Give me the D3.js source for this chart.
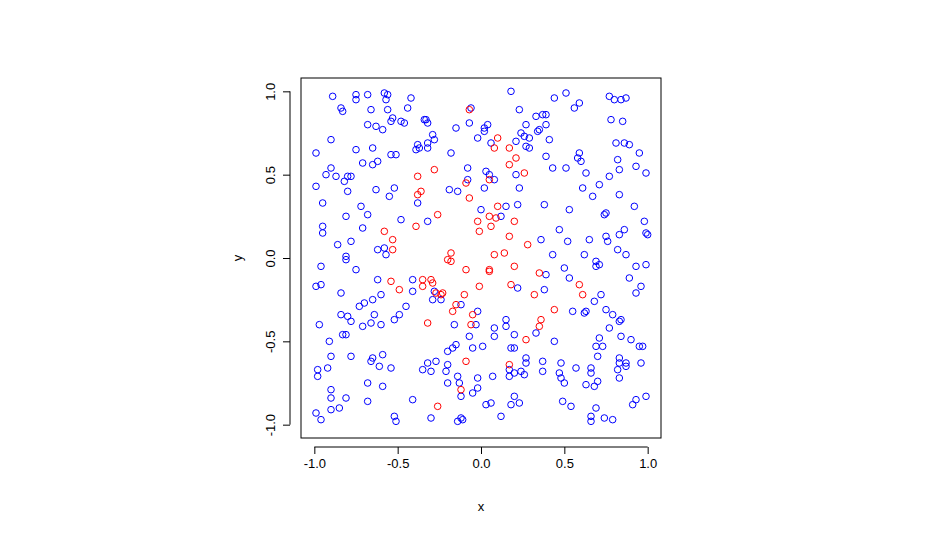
<!DOCTYPE html>
<html><head><meta charset="utf-8">
<script src="https://cdn.jsdelivr.net/npm/d3@7"></script>
<style>body{margin:0;background:#fff}svg{display:block}text{font-family:"Liberation Sans",Arial,sans-serif;font-size:13px;fill:#000}</style>
</head><body><svg id="c" width="926" height="535"></svg>
<script>
const xTicks=[-1,-0.5,0,0.5,1], yTicks=[-1,-0.5,0,0.5,1];
const xTickLabels=["-1.0","-0.5","0.0","0.5","1.0"], yTickLabels=["-1.0","-0.5","0.0","0.5","1.0"];
const blueX=[-0.89,-0.75,-0.75,-0.68,-0.58,-0.56,-0.57,-0.42,-0.84,-0.83,-0.66,-0.56,-0.44,-0.53,-0.54,-0.48,-0.46,-0.34,-0.68,-0.63,-0.59,-0.90,-0.99,-0.75,-0.65,-0.54,-0.51,-0.38,-0.39,-0.37,-0.71,-0.65,-0.62,-0.90,-0.93,-0.87,-0.80,-0.78,-0.82,-0.99,-0.63,-0.52,-0.80,-0.55,-0.38,-0.95,-0.72,-0.68,-0.81,-0.48,-0.95,-0.95,-0.71,-0.86,-0.78,-0.62,-0.58,-0.57,-0.81,
0.18,-0.06,0.23,0.33,0.37,-0.33,-0.32,-0.15,-0.07,0.02,0.04,0.02,0.27,0.34,-0.29,-0.28,-0.32,-0.32,-0.02,0.06,0.24,0.26,0.29,0.21,0.27,0.29,-0.18,-0.08,0.03,0.05,0.08,-0.08,0.21,0.23,-0.19,-0.14,0.02,-0.32,0.00,0.15,0.22,0.12,
0.44,0.51,0.59,0.56,0.77,0.80,0.84,0.87,0.39,0.39,0.35,0.78,0.85,0.41,0.81,0.86,0.89,0.95,0.59,0.58,0.60,0.39,0.82,0.43,0.51,0.93,0.83,0.99,0.63,0.77,0.71,0.61,0.67,0.83,0.38,0.53,0.92,0.74,0.75,0.98,0.47,0.86,0.83,0.99,1.00,0.75,0.76,0.65,0.52,0.36,0.82,0.87,0.43,0.62,
-0.81,-0.96,-0.75,-0.99,-0.96,-0.62,-0.41,-0.41,-0.84,-0.60,-0.65,-0.70,-0.73,-0.45,-0.84,-0.80,-0.64,-0.49,-0.52,-0.78,-0.66,-0.97,-0.71,-0.60,-0.83,-0.81,-0.91,-0.90,-0.78,-0.65,-0.59,-0.66,-0.61,-0.54,-0.92,-0.98,-0.98,-0.68,-0.59,-0.90,-0.90,-0.81,-0.68,-0.41,-0.90,-0.85,-0.99,-0.96,-0.52,-0.51,
0.22,0.38,-0.28,-0.29,-0.24,-0.12,-0.02,-0.16,-0.03,0.15,0.15,0.08,0.20,-0.07,0.08,0.33,-0.15,-0.17,-0.20,-0.05,0.01,0.18,0.20,-0.32,-0.27,-0.20,-0.35,-0.30,-0.21,0.27,0.27,0.17,0.20,0.24,0.26,0.17,0.37,0.37,-0.14,-0.02,0.07,-0.20,-0.13,-0.02,-0.05,-0.12,0.20,0.03,0.06,0.18,0.23,0.12,-0.30,-0.14,-0.12,-0.11,
0.69,0.69,0.71,0.93,0.99,0.50,0.39,0.53,0.89,0.96,0.93,0.72,0.68,0.55,0.62,0.63,0.75,0.79,0.83,0.84,0.77,0.44,0.71,0.84,0.90,0.69,0.73,0.95,0.97,0.70,0.83,0.83,0.87,0.87,0.96,0.48,0.57,0.66,0.66,0.82,0.47,0.48,0.50,0.83,0.70,0.63,0.68,0.49,0.54,0.93,0.91,0.99,0.69,0.66,0.66,0.74,0.79];
const blueY=[0.97,0.98,0.95,0.98,0.99,0.98,0.95,0.96,0.90,0.88,0.89,0.89,0.90,0.84,0.82,0.82,0.81,0.83,0.80,0.79,0.77,0.71,0.63,0.65,0.66,0.62,0.62,0.68,0.65,0.66,0.57,0.56,0.58,0.54,0.50,0.49,0.49,0.49,0.46,0.43,0.41,0.42,0.40,0.37,0.33,0.33,0.31,0.26,0.25,0.23,0.19,0.15,0.18,0.08,0.10,0.05,0.06,0.02,0.01,
1.00,0.90,0.89,0.85,0.86,0.83,0.81,0.78,0.81,0.78,0.80,0.76,0.80,0.76,0.74,0.71,0.69,0.66,0.72,0.69,0.75,0.73,0.72,0.70,0.67,0.66,0.63,0.54,0.52,0.50,0.47,0.47,0.50,0.42,0.41,0.40,0.42,0.22,0.29,0.31,0.32,0.25,
0.96,0.99,0.93,0.90,0.97,0.95,0.95,0.96,0.86,0.80,0.77,0.83,0.82,0.71,0.69,0.69,0.68,0.63,0.63,0.60,0.58,0.61,0.59,0.54,0.54,0.55,0.53,0.51,0.51,0.49,0.44,0.42,0.37,0.38,0.32,0.29,0.31,0.26,0.27,0.22,0.17,0.17,0.14,0.15,0.14,0.13,0.10,0.11,0.10,0.11,0.05,0.02,0.02,0.02,
-0.01,-0.05,-0.07,-0.17,-0.16,-0.13,-0.13,-0.20,-0.21,-0.22,-0.25,-0.27,-0.29,-0.29,-0.34,-0.35,-0.34,-0.34,-0.37,-0.38,-0.39,-0.40,-0.41,-0.40,-0.46,-0.46,-0.50,-0.59,-0.59,-0.60,-0.58,-0.62,-0.65,-0.66,-0.66,-0.67,-0.71,-0.75,-0.77,-0.79,-0.84,-0.84,-0.86,-0.85,-0.91,-0.90,-0.93,-0.97,-0.95,-0.98,
-0.18,-0.19,-0.20,-0.25,-0.25,-0.28,-0.32,-0.40,-0.40,-0.37,-0.41,-0.42,-0.46,-0.47,-0.47,-0.45,-0.52,-0.54,-0.56,-0.54,-0.53,-0.54,-0.54,-0.63,-0.62,-0.64,-0.67,-0.68,-0.68,-0.60,-0.63,-0.67,-0.69,-0.68,-0.70,-0.71,-0.62,-0.68,-0.71,-0.72,-0.71,-0.75,-0.75,-0.78,-0.81,-0.83,-0.83,-0.88,-0.87,-0.88,-0.87,-0.95,-0.96,-0.98,-0.96,-0.97,
-0.02,-0.05,-0.04,-0.05,-0.04,-0.06,-0.10,-0.12,-0.12,-0.17,-0.21,-0.22,-0.26,-0.32,-0.33,-0.32,-0.31,-0.34,-0.38,-0.37,-0.42,-0.50,-0.48,-0.47,-0.49,-0.53,-0.53,-0.53,-0.53,-0.59,-0.60,-0.63,-0.63,-0.65,-0.63,-0.63,-0.66,-0.66,-0.69,-0.67,-0.69,-0.72,-0.75,-0.72,-0.74,-0.76,-0.77,-0.86,-0.89,-0.85,-0.88,-0.83,-0.90,-0.95,-0.98,-0.96,-0.97];
const redX=[-0.38,-0.36,-0.38,-0.39,-0.58,-0.53,-0.53,-0.07,0.10,0.08,0.17,0.21,0.17,0.26,-0.28,-0.09,0.05,-0.07,0.10,-0.26,0.05,0.09,-0.02,0.20,0.06,-0.01,0.17,0.28,-0.18,0.08,0.14,-0.54,-0.49,-0.20,-0.18,-0.09,0.20,0.05,0.05,0.35,-0.35,-0.30,-0.29,-0.35,0.18,-0.01,-0.27,-0.23,-0.24,-0.10,0.32,-0.15,-0.17,-0.05,-0.32,-0.06,0.36,0.35,0.27,-0.09,0.17,-0.12,-0.26,0.59,0.61,0.44];
const redY=[0.49,0.40,0.38,0.19,0.16,0.11,0.05,0.89,0.72,0.66,0.66,0.60,0.56,0.51,0.53,0.45,0.47,0.36,0.31,0.26,0.25,0.24,0.22,0.22,0.19,0.16,0.13,0.08,0.03,0.02,0.03,-0.14,-0.19,-0.01,-0.02,-0.07,-0.05,-0.08,-0.07,-0.09,-0.13,-0.13,-0.15,-0.17,-0.16,-0.17,-0.21,-0.21,-0.22,-0.22,-0.22,-0.28,-0.32,-0.34,-0.39,-0.40,-0.37,-0.41,-0.49,-0.62,-0.64,-0.79,-0.89,-0.16,-0.22,-0.31];

const svg=d3.select("#c");
const x=d3.scaleLinear().domain([-1.08,1.08]).range([301,661]);
const y=d3.scaleLinear().domain([-1.08,1.08]).range([438,78]);
svg.append("rect").attr("x",301).attr("y",78).attr("width",360).attr("height",360).attr("fill","none").attr("stroke","#000");
const xa=svg.append("g").attr("transform","translate(0,447)").call(d3.axisBottom(x).tickValues(xTicks).tickSize(7).tickFormat((d,i)=>xTickLabels[i]));
const ya=svg.append("g").attr("transform","translate(290,0)").call(d3.axisLeft(y).tickValues(yTicks).tickSize(7).tickFormat((d,i)=>yTickLabels[i]));
[xa,ya].forEach(a=>{a.selectAll("path,line").attr("stroke","#000");a.selectAll("text").style("font-size","13px").style("font-family","Liberation Sans, Arial, sans-serif").attr("fill","#000");});
xa.select(".domain").attr("d",`M${x(-1)},0H${x(1)}`);
ya.select(".domain").attr("d",`M0,${y(-1)}V${y(1)}`);
xa.selectAll("text").attr("y",12);
ya.selectAll("text").attr("transform","rotate(-90)").attr("x",0).attr("y",-12).attr("dy","0").attr("text-anchor","middle")
  .each(function(d){d3.select(this).attr("transform",`translate(${-20},0) rotate(-90)`).attr("x",0).attr("y",0).attr("dy","0.35em");});
svg.append("text").attr("x",481).attr("y",511).attr("text-anchor","middle").text("x");
svg.append("text").attr("transform","translate(242,258) rotate(-90)").attr("text-anchor","middle").text("y");
const pts=(X,Y,c)=>svg.append("g").selectAll("circle").data(X.map((v,i)=>[v,Y[i]])).join("circle")
  .attr("cx",d=>x(d[0])).attr("cy",d=>y(d[1])).attr("r",3.3).attr("fill","none").attr("stroke",c).attr("stroke-width",1);
pts(blueX,blueY,"#0000ff");pts(redX,redY,"#ff0000");
</script></body></html>
